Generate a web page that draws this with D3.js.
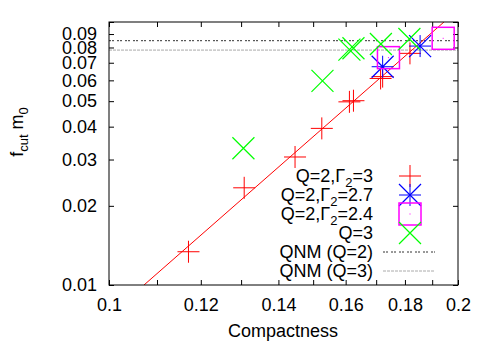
<!DOCTYPE html>
<html><head><meta charset="utf-8">
<script src="https://cdn.jsdelivr.net/npm/d3@7"></script>
<style>
body{margin:0;background:#fff;}
svg{display:block;font-family:"Liberation Sans",Arial,sans-serif;}
</style></head>
<body>
<svg id="c" width="491" height="343"></svg>
<script>
// ---- data ----
const xTickValues = [0.1,0.11,0.12,0.13,0.14,0.15,0.16,0.17,0.18,0.19,0.2];
const xTickLabels = [0.1,0.12,0.14,0.16,0.18,0.2];
const yTickValues = [0.01,0.02,0.03,0.04,0.05,0.06,0.07,0.08,0.09,0.1];
const yTickLabels = [0.01,0.02,0.03,0.04,0.05,0.06,0.07,0.08,0.09];

const redC = [0.1171,0.1308,0.1447,0.1526,0.1612,0.1625,0.1715,0.1722,0.1818];
const redF = [0.01338,0.02342,0.03067,0.0394,0.0497,0.0502,0.0610,0.0620,0.0760];
const blueC = [0.1722,0.1855];
const blueF = [0.0676,0.0810];
const magC = [0.1742,0.1942];
const magF = [0.0732,0.0867];
const greenC = [0.1306,0.1528,0.1612,0.1625,0.1716,0.1816];
const greenF = [0.0331,0.0597,0.0785,0.0795,0.0825,0.0862];
const fitC = [0.1072,0.1945];
const fitF = [0.01,0.1];
const qnmF = [0.0849,0.0782];
const legendLabels = ["Q=2,Γ2=3","Q=2,Γ2=2.7","Q=2,Γ2=2.4","Q=3","QNM (Q=2)","QNM (Q=3)"];

// ---- layout ----
const L=109,R=458,T=22,B=285;
const svg=d3.select("#c");
const x=d3.scaleLog().domain([0.1,0.2]).range([L,R]);
const y=d3.scaleLog().domain([0.01,0.1]).range([B,T]);
const FS=18;

const fmt = v => String(+v.toFixed(2));
const xl = new Set(xTickLabels.map(fmt)), yl=new Set(yTickLabels.map(fmt));

function styleAxis(g){
  g.select(".domain").remove();
  g.selectAll("line").attr("stroke","#000");
  g.selectAll("text").attr("font-size",FS).attr("font-family","Liberation Sans, Arial, sans-serif").attr("fill","#000");
}
svg.append("g").attr("transform",`translate(0,${B})`)
  .call(d3.axisBottom(x).tickValues(xTickValues).tickSize(-5).tickPadding(13)
    .tickFormat(d=>xl.has(fmt(d))?fmt(d):"")).call(styleAxis);
svg.append("g").attr("transform",`translate(0,${T})`)
  .call(d3.axisTop(x).tickValues(xTickValues).tickSize(-5).tickFormat("")).call(styleAxis);
svg.append("g").attr("transform",`translate(${L},0)`)
  .call(d3.axisLeft(y).tickValues(yTickValues).tickSize(-5).tickPadding(12)
    .tickFormat(d=>yl.has(fmt(d))?fmt(d):"")).call(styleAxis);
svg.append("g").attr("transform",`translate(${R},0)`)
  .call(d3.axisRight(y).tickValues(yTickValues).tickSize(-5).tickFormat("")).call(styleAxis);

// clip
svg.append("clipPath").attr("id","clip").append("rect").attr("x",L).attr("y",T).attr("width",R-L).attr("height",B-T);
const plot=svg.append("g").attr("clip-path","url(#clip)");

// QNM lines
const qStyles=[{c:"#333",d:"2,1,2,3"},{c:"#aaa",d:"3,1"}];
qnmF.forEach((f,i)=>{
  plot.append("line").attr("x1",x(0.1)).attr("x2",x(0.2)).attr("y1",y(f)).attr("y2",y(f))
    .attr("stroke",qStyles[i].c).attr("stroke-width",1).attr("stroke-dasharray",qStyles[i].d);
});

// fit line
plot.append("path").datum(fitC.map((c,i)=>[c,fitF[i]]))
  .attr("d",d3.line().x(d=>x(d[0])).y(d=>y(d[1]))).attr("stroke","#f00").attr("fill","none").attr("stroke-width",1);

const S=11;
function plus(g,cx,cy,col){g.append("path").attr("d",`M${cx-S},${cy}H${cx+S}M${cx},${cy-S}V${cy+S}`).attr("stroke",col).attr("stroke-width",1).attr("fill","none");}
function cross(g,cx,cy,col){const s=S;g.append("path").attr("d",`M${cx-s},${cy-s}L${cx+s},${cy+s}M${cx-s},${cy+s}L${cx+s},${cy-s}`).attr("stroke",col).attr("stroke-width",1.2).attr("fill","none");}
function star(g,cx,cy,col){plus(g,cx,cy,col);cross(g,cx,cy,col);}
function square(g,cx,cy,col){g.append("rect").attr("x",cx-S).attr("y",cy-S).attr("width",2*S).attr("height",2*S).attr("fill","none").attr("stroke",col).attr("stroke-width",1.5);
  g.append("rect").attr("x",cx-0.5).attr("y",cy-0.5).attr("width",1).attr("height",1).attr("fill",col);}

const pts=svg.append("g");
redC.forEach((c,i)=>plus(pts,x(c),y(redF[i]),"#f00"));
blueC.forEach((c,i)=>star(pts,x(c),y(blueF[i]),"#00f"));
magC.forEach((c,i)=>square(pts,x(c),y(magF[i]),"#f0f"));
greenC.forEach((c,i)=>cross(pts,x(c),y(greenF[i]),"#0f0"));

// frame
svg.append("rect").attr("x",L).attr("y",T).attr("width",R-L).attr("height",B-T).attr("fill","none").attr("stroke","#000").attr("stroke-width",1);

// legend
const lg=svg.append("g").attr("font-size",FS);
const rowY=i=>176+19*i;
legendLabels.forEach((lab,i)=>{
  const t=lg.append("text").attr("x",373).attr("y",rowY(i)).attr("dy","0.35em").attr("text-anchor","end");
  const m=lab.match(/^(.*Γ)2(=.*)$/);
  if(m){t.append("tspan").text(m[1]);t.append("tspan").attr("dy",5).attr("font-size",13).text("2");t.append("tspan").attr("dy",-5).text(m[2]);}
  else t.text(lab);
});
plus(lg,410,rowY(0),"#f00");
star(lg,410,rowY(1),"#00f");
square(lg,410,rowY(2),"#f0f");
cross(lg,410,rowY(3),"#0f0");
[4,5].forEach((r,i)=>lg.append("line").attr("x1",383).attr("x2",435).attr("y1",rowY(r)).attr("y2",rowY(r))
  .attr("stroke",qStyles[i].c).attr("stroke-dasharray",qStyles[i].d));

// axis titles
svg.append("text").attr("x",(L+R)/2-0.5).attr("y",337).attr("text-anchor","middle").attr("font-size",FS).text("Compactness");
const yt=svg.append("text").attr("transform","translate(23,132) rotate(-90)").attr("text-anchor","middle").attr("font-size",FS);
yt.append("tspan").text("f");
yt.append("tspan").attr("dy",5).attr("font-size",13).text("cut");
yt.append("tspan").attr("dy",-5).text(" m");
yt.append("tspan").attr("dy",5).attr("font-size",13).text("0");
</script>
</body></html>
